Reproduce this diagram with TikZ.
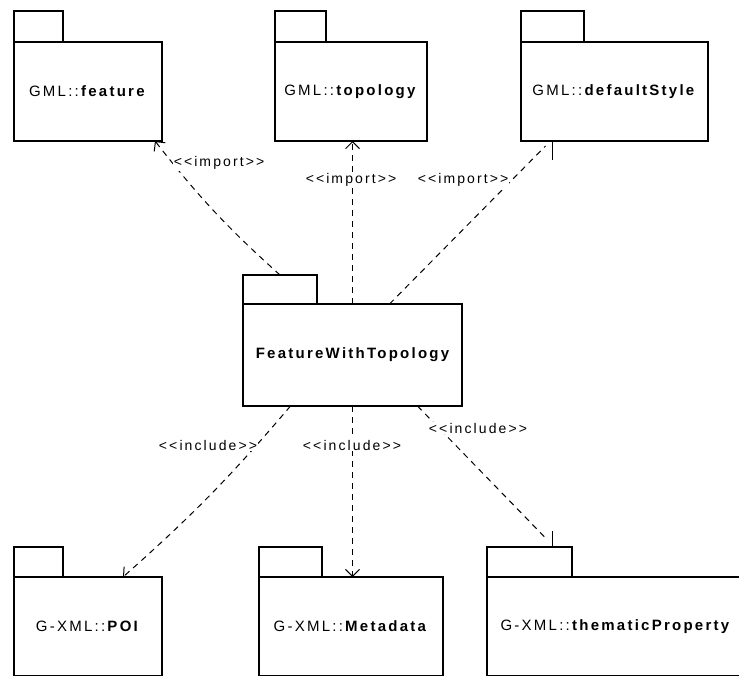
\documentclass[tikz,border=0pt]{standalone}
\usepackage{fontspec}
\setmainfont{Liberation Sans}[LetterSpace=15]
\usepackage{tikz}
\usetikzlibrary{arrows.meta}
\tikzstyle{pkg_b} = [rectangle, draw=black, line width=1.2pt, inner sep=0pt, outer sep=0pt, minimum height=99pt, font=\fontsize{15}{17}\selectfont]
\tikzstyle{pkg_t} = [rectangle, draw=black, line width=1.2pt, inner sep=0pt, outer sep=0pt, minimum height=31pt, anchor=south west]
\tikzstyle{dep} = [dash pattern=on 6pt off 5pt, line width=1pt]
\tikzstyle{lbl} = [fill=white, inner sep=1pt, font=\fontsize{14}{16}\selectfont]

\begin{document}
\begin{tikzpicture}[x=1pt,y=-1pt,->,>={Straight Barb[length=7pt,width=14pt]}]
\useasboundingbox (0,0) rectangle (739,675);
\clip (0,0) rectangle (739,675);
\node [pkg_b, minimum width=148pt] (feature) at (88,91.5) {GML::\textbf{feature}};
\node [pkg_t, minimum width=49pt] (feature tab) at (feature.north west) {};
\node [pkg_b, minimum width=152pt] (topology) at (351,91.5) {GML::\textbf{topology}};
\node [pkg_t, minimum width=51pt] (topology tab) at (topology.north west) {};
\node [pkg_b, minimum width=187pt] (style) at (614.5,91.5) {GML::\textbf{defaultStyle}};
\node [pkg_t, minimum width=63pt] (style tab) at (style.north west) {};
\node [pkg_b, minimum width=219pt, minimum height=102pt, font=\bfseries\fontsize{15}{17}\selectfont] (fwt) at (352.5,355) {FeatureWithTopology};
\node [pkg_t, minimum width=74pt, minimum height=29pt] (fwt tab) at (fwt.north west) {};
\node [pkg_b, minimum width=148pt] (poi) at (88,626.5) {G-XML::\textbf{POI}};
\node [pkg_t, minimum width=49pt, minimum height=30pt] (poi tab) at (poi.north west) {};
\node [pkg_b, minimum width=184pt] (meta) at (351,626.5) {G-XML::\textbf{Metadata}};
\node [pkg_t, minimum width=63pt, minimum height=30pt] (meta tab) at (meta.north west) {};
\node [pkg_b, minimum width=258pt] (them) at (616,626.5) {G-XML::\textbf{thematicProperty}};
\node [pkg_t, minimum width=85pt, minimum height=30pt] (them tab) at (them.north west) {};

\draw [dep] (fwt tab.north) to[bend left=5] ([xshift=-7pt]feature.south east);
\draw [dep] (fwt.north) -- (fwt.north |- topology.south);
\coordinate (style tick) at ([xshift=-62pt]style.south);
\draw [-, line width=1pt] (style tick) -- ++(0,19);
\draw [dep, -] ([xshift=37pt]fwt.north) -- ([xshift=-7pt,yshift=-5pt]style tick);

\draw [dep] ([xshift=-62pt]fwt.south) to[bend left=4] ([xshift=35pt]poi.north);
\draw [dep] (fwt.south) -- (fwt.south |- meta.north);
\coordinate (them tick) at ([xshift=23pt]them tab.north);
\draw [-, line width=1pt] (them tick) -- ++(0,-16);
\draw [dep, -] ([xshift=65pt]fwt.south) -- ([xshift=-5pt,yshift=7pt]them tick);

\node [lbl] (imp feature) at (219,163) {<{}<import>{}>};
\node [lbl] (imp topology) at (351,180) {<{}<import>{}>};
\node [lbl] (imp style) at (463,180) {<{}<import>{}>};
\node [lbl] (inc poi) at (208,445) {<{}<include>{}>};
\node [lbl] (inc meta) at (352,445) {<{}<include>{}>};
\node [lbl] (inc them) at (478,428) {<{}<include>{}>};
\end{tikzpicture}
\end{document}
